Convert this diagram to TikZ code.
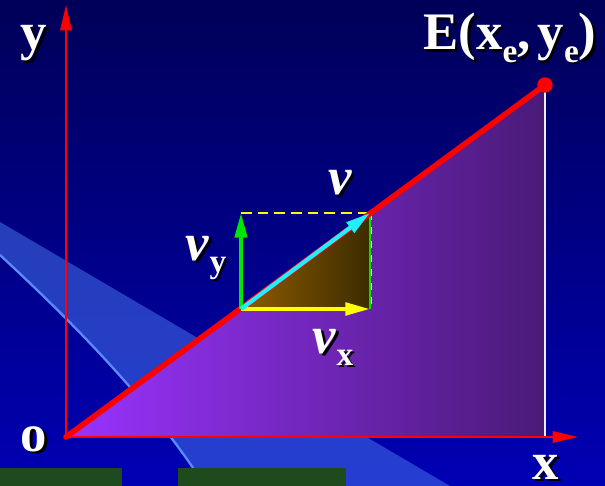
\documentclass[tikz,border=0pt]{standalone}
\usepackage{fontspec}
\setmainfont{Liberation Serif}
\usepackage{tikz}
\usetikzlibrary{arrows.meta}
\definecolor{kvBgTop}{HTML}{000058}
\definecolor{kvBgBot}{HTML}{0000B4}
\definecolor{kvBand}{HTML}{4A7CF0}
\definecolor{kvEdge}{HTML}{5A8CFF}
\definecolor{kvBox}{HTML}{1E4A1E}
\definecolor{kvPurpL}{HTML}{9A33FF}
\definecolor{kvPurpR}{HTML}{4A1A78}
\definecolor{kvBrownL}{HTML}{8F5C00}
\definecolor{kvBrownR}{HTML}{3C2C00}
\definecolor{kvRed}{HTML}{FF0000}
\definecolor{kvGreen}{HTML}{00E600}
\definecolor{kvYellow}{HTML}{FFFF00}
\definecolor{kvCyan}{HTML}{22EEFF}
\newcommand{\shd}[1]{\makebox[0pt][l]{\hspace{1.3pt}\raisebox{-1.3pt}{\color{black}#1}}#1}
\newcommand{\lowsub}[1]{\raisebox{-0.5ex}{\fontsize{19}{20}\selectfont #1}}
\tikzset{
  kvaxis/.style={draw=kvRed, line width=1.1pt, -{Triangle[length=14.5pt,width=6.5pt]}},
  kvpath/.style={draw=kvRed, line width=3.2pt, line cap=round},
  kvvec/.style={line width=2.4pt, -{Triangle[length=14pt,width=7pt]}},
  kvguide/.style={line width=1.3pt, dash pattern=on 6pt off 3.5pt},
  kvlbl/.style={text=white, font=\fontsize{30}{34}\selectfont\bfseries, inner sep=0pt, anchor=base},
}

\begin{document}
\begin{tikzpicture}[x={(0.02cm,0)}, y={(0,-0.02cm)}]
\useasboundingbox (0,0) rectangle (605,486);
\shade[top color=kvBgTop, bottom color=kvBgBot] (0,0) rectangle (605,486);
% light swoosh behind everything
\fill[kvBand, opacity=.5] (0,222) -- (450,486) -- (205,486) .. controls (150,400) and (70,320) .. (0,255) -- cycle;
\draw[kvEdge, line width=1.3pt] (0,255) .. controls (70,320) and (150,400) .. (205,486);
\fill[kvBox] (0,468) rectangle (122,486);
\fill[kvBox] (178,468) rectangle (346,486);

\coordinate (O) at (66,437);
\coordinate (E) at (545,85);
\coordinate (Ex) at (545,437);
\coordinate (xend) at (578,437);
\coordinate (yend) at (66,5);
\coordinate (P) at (241,309);
\coordinate (Px) at (370,309);
\coordinate (Py) at (241,213);
\coordinate (Q) at (370,213);

\shade[left color=kvPurpL, right color=kvPurpR] (O) -- (Ex) -- (E) -- cycle;
\shade[left color=kvBrownL, right color=kvBrownR] (P) -- (Px) -- (Q) -- cycle;
\draw[white!85!gray, line width=1.1pt] (E) -- (Ex);
\draw[kvaxis] (O) -- (xend);
\draw[kvaxis] (O) -- (yend);

% velocity box
\draw[kvguide, kvYellow] (Py) -- (Q);
\draw[kvGreen, line width=1.5pt] (Q) -- (Px);
\draw[white, line width=0.7pt, dash pattern=on 4pt off 4pt] ([xshift=1pt]Q) -- ([xshift=1pt]Px);
\draw[kvpath] (O) -- (E);
\draw[kvvec, kvGreen, line width=2pt] (P) -- (Py);
\draw[kvvec, kvYellow] (P) -- (Px);
\draw[kvvec, kvCyan] (P) -- (Q);
\fill[kvRed] (E) circle (4.4pt);

\node[kvlbl] (ylab) at (34,50) {\shd{y}};
\node[kvlbl] (xlab) at (546,479) {\shd{x}};
\node[kvlbl] (olab) at (34,451) {\shd{o}};
\node[kvlbl] (elab) at (510,50) {\shd{E(x\lowsub{e},\hspace{4pt}y\lowsub{e})}};
\node[kvlbl] (vlab) at (340,195) {\shd{\itshape v}};
\node[kvlbl] (vylab) at (206,260) {\shd{\textit{v}\lowsub{y}}};
\node[kvlbl] (vxlab) at (333,353) {\shd{\textit{v}\lowsub{x}}};
\end{tikzpicture}
\end{document}
